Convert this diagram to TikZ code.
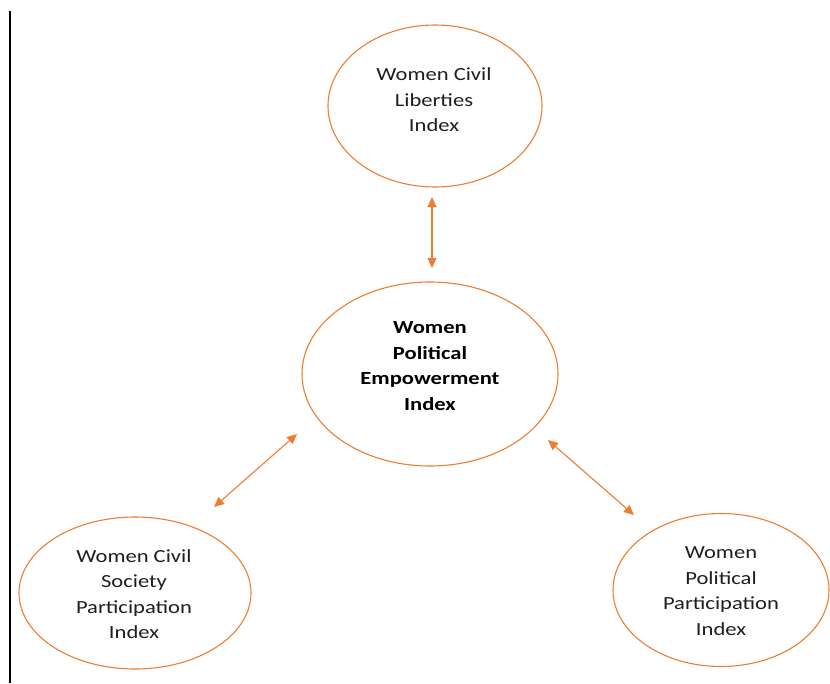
\documentclass[tikz,border=0pt]{standalone}
\usepackage{fontspec}
\setmainfont[FakeStretch=1.22]{Carlito}
\usetikzlibrary{shapes.geometric,arrows.meta}
\definecolor{orng}{RGB}{237,125,49}
\definecolor{txt}{RGB}{30,30,30}
\begin{document}
\begin{tikzpicture}[x=1pt,y=-1pt,
  bub/.style={draw=orng,line width=1.1pt,ellipse,inner sep=0pt},
  lbl/.style={align=center,text=txt,font=\fontsize{18.5}{25.5}\selectfont},
  dbl/.style={draw=orng,line width=1.1pt,{Triangle[length=10pt,width=9pt]}-{Triangle[length=10pt,width=9pt]}}]
\useasboundingbox (0,0) rectangle (830,683);
\draw[line width=1.4pt] (10,11) -- (10,683);
\node[bub,minimum width=214pt,minimum height=162pt] (top) at (435,106) {};
\node[bub,minimum width=256pt,minimum height=184pt] (mid) at (430,374) {};
\node[bub,minimum width=232pt,minimum height=152pt] (left) at (135,593) {};
\node[bub,minimum width=216pt,minimum height=153pt] (right) at (721,590) {};
\node[lbl] (toptxt) at (434,100) {Women Civil\\Liberties\\Index};
\node[lbl,text=black,font=\bfseries\fontsize{18.5}{25.5}\selectfont] (midtxt) at (430,366) {Women\\Political\\Empowerment\\Index};
\node[lbl] (lefttxt) at (134,594) {Women Civil\\Society\\Participation\\Index};
\node[lbl] (righttxt) at (721,591) {Women\\Political\\Participation\\Index};
\coordinate (a1) at (432,197);
\coordinate (a2) at (432,268);
\coordinate (b1) at (297,434);
\coordinate (b2) at (214,507);
\coordinate (c1) at (548,440);
\coordinate (c2) at (634,515);
\draw[dbl] (a1) -- (a2);
\draw[dbl] (b1) -- (b2);
\draw[dbl] (c1) -- (c2);
\end{tikzpicture}
\end{document}
